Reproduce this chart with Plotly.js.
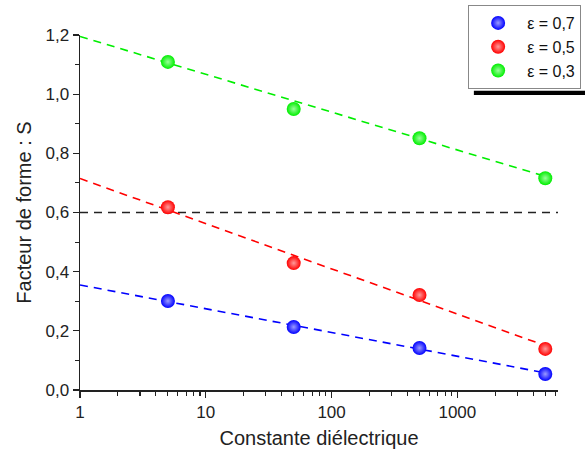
<!DOCTYPE html>
<html>
<head>
<meta charset="utf-8">
<script src="https://cdn.plot.ly/plotly-3.0.1.min.js"></script>
<style>html,body{margin:0;padding:0;background:#fff;}#chart{width:585px;height:454px;}</style>
</head>
<body>
<div id="chart"></div>
<script>
// Data
const epsilonX = [5, 50, 500, 5000];
const seriesNames = ['ε = 0,7', 'ε = 0,5', 'ε = 0,3'];
const sBlue  = [0.301, 0.213, 0.142, 0.054];
const sRed   = [0.618, 0.429, 0.321, 0.139];
const sGreen = [1.109, 0.950, 0.851, 0.716];
// Fitted dashed lines (endpoints)
const fitX = [1, 5000];
const fitBlue  = [0.355, 0.058];
const fitRed   = [0.715, 0.150];
const fitGreen = [1.195, 0.722];
const refX = [1, 6310];
const refY = [0.6, 0.6];
const xTickVals = [1, 10, 100, 1000];
const xTickText = ['1', '10', '100', '1000'];

const colors = ['#0000ff', '#ff0000', '#00ee00'];
const tints  = ['#9a9aff', '#ff9a9a', '#9aff9a'];
const FONT = 'Liberation Sans, Arial, sans-serif';

function fitLine(y, c) {
  return {x: fitX, y: y, mode: 'lines', showlegend: false, hoverinfo: 'skip',
    line: {color: c, width: 1.6, dash: '8px,6px'}};
}
function pts(y, i) {
  return {x: epsilonX, y: y, mode: 'markers', name: seriesNames[i],
    marker: {size: 14, color: colors[i], gradient: {type: 'radial', color: tints[i]},
      line: {width: 0}}};
}

const data = [
  {x: refX, y: refY, mode: 'lines', showlegend: false, hoverinfo: 'skip',
   line: {color: '#222', width: 1.6, dash: '8px,6px'}},
  fitLine(fitBlue, colors[0]), fitLine(fitRed, colors[1]), fitLine(fitGreen, colors[2]),
  pts(sBlue, 0), pts(sRed, 1), pts(sGreen, 2)
];

const tickFont = {family: FONT, size: 17, color: '#222'};
const titleFont = {family: FONT, size: 20, color: '#222'};
const layout = {
  width: 585, height: 454,
  margin: {l: 80, r: 27, t: 35, b: 64, autoexpand: false},
  paper_bgcolor: '#fff', plot_bgcolor: '#fff',
  separators: ',.',
  font: tickFont,
  xaxis: {
    type: 'log', range: [0, 3.8], tickvals: xTickVals, ticktext: xTickText,
    ticks: 'outside', ticklen: 6, tickwidth: 1.3, tickcolor: '#222',
    minor: {ticks: 'outside', ticklen: 4, tickwidth: 1.1, tickcolor: '#222', dtick: 'D1'},
    showline: true, linecolor: '#222', linewidth: 1.5, showgrid: false, zeroline: false,
    tickfont: tickFont,
    title: {text: 'Constante diélectrique', font: titleFont, standoff: 10}
  },
  yaxis: {
    range: [0, 1.2], dtick: 0.2, tick0: 0, tickformat: '.1f',
    ticks: 'outside', ticklen: 6, tickwidth: 1.3, tickcolor: '#222',
    minor: {ticks: 'outside', ticklen: 4, tickwidth: 1.1, tickcolor: '#222', dtick: 0.1},
    showline: true, linecolor: '#222', linewidth: 1.5, showgrid: false, zeroline: false,
    tickfont: tickFont,
    title: {text: 'Facteur de forme : S', font: titleFont, standoff: 8}
  },
  xaxis2: {
    type: 'log', range: [0, 3.8], overlaying: 'x', side: 'top', anchor: 'y',
    tickvals: xTickVals, showticklabels: false,
    ticks: 'inside', ticklen: 6, tickwidth: 1.3, tickcolor: '#222',
    minor: {ticks: 'inside', ticklen: 4, tickwidth: 1.1, tickcolor: '#222', dtick: 'D1'},
    showline: true, linecolor: '#222', linewidth: 1.5, showgrid: false, zeroline: false
  },
  yaxis2: {
    range: [0, 1.2], dtick: 0.2, tick0: 0, overlaying: 'y', side: 'right', anchor: 'x',
    showticklabels: false,
    ticks: 'inside', ticklen: 6, tickwidth: 1.3, tickcolor: '#222',
    minor: {ticks: 'inside', ticklen: 4, tickwidth: 1.1, tickcolor: '#222', dtick: 0.1},
    showline: true, linecolor: '#222', linewidth: 1.5, showgrid: false, zeroline: false
  },
  legend: {
    x: 0.812, y: 1.0845, xanchor: 'left', yanchor: 'top',
    bgcolor: '#fff', bordercolor: '#888', borderwidth: 1,
    font: {family: FONT, size: 16, color: '#111'},
    itemwidth: 48, tracegroupgap: 0
  },
  shapes: [
    {type: 'rect', xref: 'paper', yref: 'paper', x0: 0.824, x1: 1.2, y0: 0.831, y1: 0.843,
     fillcolor: '#000', line: {width: 0}, layer: 'above'}
  ],
  showlegend: true
};

Plotly.newPlot('chart', data, layout, {displayModeBar: false, staticPlot: true});
</script>
</body>
</html>
